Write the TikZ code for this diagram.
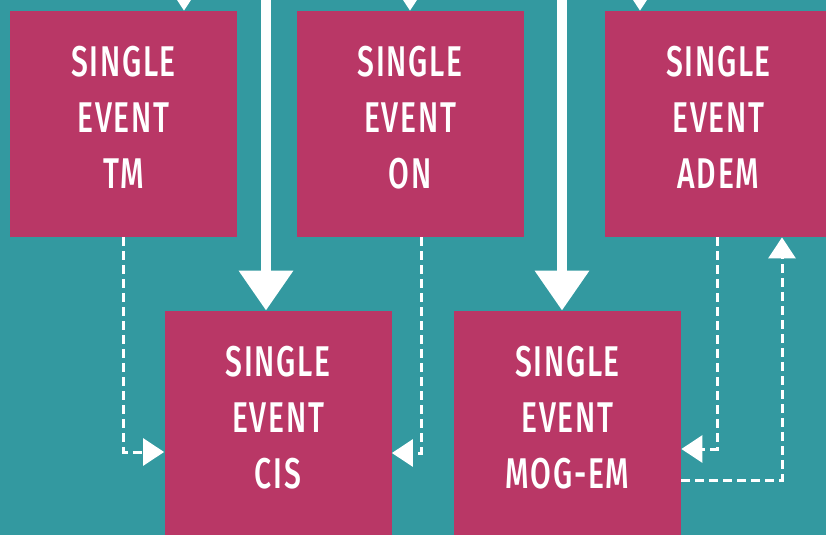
\documentclass[tikz,border=0pt]{standalone}
\usepackage{fontspec}
\setmainfont{Fira Sans}[UprightFont={* Medium},FakeStretch=0.7,LetterSpace=4]
\usetikzlibrary{arrows.meta,positioning}
\definecolor{bgColor}{HTML}{3399A0}
\definecolor{evColor}{HTML}{B93766}

\begin{document}
\begin{tikzpicture}[x=0.5pt,y=-0.5pt,
		event/.style={fill=evColor, text=white, inner sep=0, minimum width=113.5pt,
			minimum height=113pt, align=center, text depth=7pt,
			font=\fontsize{21.5}{28}\selectfont},
		flow/.style={white, line width=5pt, -{Triangle[width=26pt,length=20pt]}},
		link/.style={white, line width=1.5pt, dash pattern=on 4.5pt off 2.5pt,
			-{Triangle[width=13.5pt,length=10.5pt]}}]
	
	\fill[bgColor] (0,0) rectangle (826,535);
	\useasboundingbox (0,0) rectangle (826,535);
	\clip (0,0) rectangle (826,535);
	
	\node[event] (tm) at (123.5,124) {SINGLE\\EVENT\\TM};
	\node[event] (on) at (410,124) {SINGLE\\EVENT\\ON};
	\node[event] (adem) at (718.5,124) {SINGLE\\EVENT\\ADEM};
	\node[event] (cis) at (278,424) {SINGLE\\EVENT\\CIS};
	\node[event] (mogem) at (567.5,424) {SINGLE\\EVENT\\MOG-EM};
	
	% incoming from above
	\coordinate (cisIn) at (266,-20);
	\coordinate (mogIn) at (562,-20);
	\coordinate (tmIn) at (184,-40);
	\coordinate (onIn) at (410,-40);
	\coordinate (ademIn) at (640,-40);
	
	\draw[flow] (cisIn) -- (cisIn |- cis.north);
	\draw[flow] (mogIn) -- (mogIn |- mogem.north);
	\draw[link] (tmIn) -- (tmIn |- tm.north);
	\draw[link] (onIn) -- (onIn |- on.north);
	\draw[link] (ademIn) -- (ademIn |- adem.north);
	
	\draw[link] (tm.south) |- ([yshift=-14pt]cis.west);
	\draw[link] ([xshift=5.5pt]on.south) |- ([yshift=-14.5pt]cis.east);
	\draw[link] ([xshift=-0.75pt]adem.south) |- ([yshift=-12.5pt]mogem.east);
	\draw[link] ([yshift=-28pt]mogem.east) -| ([xshift=31.75pt]adem.south);
\end{tikzpicture}
\end{document}
